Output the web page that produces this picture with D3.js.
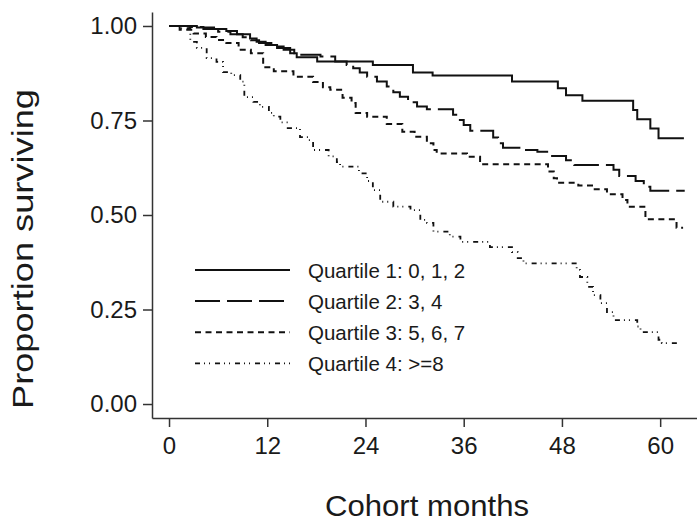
<!DOCTYPE html>
<html>
<head>
<meta charset="utf-8">
<script src="https://cdn.jsdelivr.net/npm/d3@7"></script>
<style>
  body { margin: 0; background: #fff; }
  text { font-family: "Liberation Sans", Arial, sans-serif; fill: #1a1a1a; }
  .axis path, .axis line { stroke: #333; stroke-width: 1.5px; }
  .axis text { font-size: 24px; }
</style>
</head>
<body>
<div id="chart"></div>
<script>
// legend labels
var seriesNames = ["Quartile 1: 0, 1, 2", "Quartile 2: 3, 4", "Quartile 3: 5, 6, 7", "Quartile 4: >=8"];

// [month, proportion surviving] after each step
var q1 = [[0, 1.0], [3.4, 0.996], [5.5, 0.992], [7, 0.987], [8.3, 0.978], [9.9, 0.967], [10.7, 0.958],
  [11.8, 0.950], [13.2, 0.942], [14.8, 0.928], [15.6, 0.917], [18.1, 0.906], [24.9, 0.897], [29.8, 0.877],
  [32.2, 0.869], [41.9, 0.853], [47.5, 0.835], [48.5, 0.817], [50.5, 0.802], [56.7, 0.778], [57.2, 0.753],
  [58.8, 0.729], [59.8, 0.703], [62.9, 0.703]];

var q2 = [[0, 1.0], [2.5, 0.997], [4.2, 0.992], [6, 0.985], [7.5, 0.978], [9, 0.970], [10, 0.962],
  [11, 0.955], [12.5, 0.946], [14, 0.937], [15.3, 0.928], [16, 0.924], [18.5, 0.919], [20.3, 0.906],
  [21.7, 0.897], [22.5, 0.888], [23.3, 0.877], [24.2, 0.866], [25.4, 0.853], [26.6, 0.840], [27.4, 0.825],
  [28.2, 0.813], [29.2, 0.798], [30.3, 0.787], [31.5, 0.780], [34.7, 0.765], [35.3, 0.751], [36.0, 0.738],
  [36.8, 0.723], [39.6, 0.705], [40.2, 0.690], [40.8, 0.678], [42.8, 0.672], [45.0, 0.667], [46.8, 0.656],
  [48.5, 0.645], [49.5, 0.632], [54.3, 0.620], [55.0, 0.603], [57.0, 0.590], [58.0, 0.575], [58.8, 0.564],
  [63.0, 0.564]];

var q3 = [[0, 1.0], [1.3, 0.990], [3, 0.980], [4.5, 0.971], [5.8, 0.963], [7, 0.955], [8.5, 0.937],
  [10, 0.928], [11.5, 0.891], [12.8, 0.880], [15.2, 0.866], [17.6, 0.852], [18.8, 0.838], [19.7, 0.831],
  [21.2, 0.810], [22.3, 0.796], [22.8, 0.770], [24.2, 0.760], [26.6, 0.741], [28.5, 0.720], [30, 0.707],
  [31.5, 0.690], [32.3, 0.672], [32.7, 0.663], [36.4, 0.654], [38.0, 0.634], [46.3, 0.615], [47.0, 0.597],
  [47.4, 0.585], [50, 0.578], [51.8, 0.568], [53.5, 0.555], [55.4, 0.540], [56, 0.522], [58.2, 0.489],
  [62.0, 0.466], [62.8, 0.466]];

var q4 = [[0, 1.0], [1.5, 0.994], [2.6, 0.958], [3.4, 0.942], [4.6, 0.915], [5.8, 0.905], [6.6, 0.878],
  [7.6, 0.870], [8.7, 0.853], [9.2, 0.812], [10.3, 0.799], [11.1, 0.786], [12.2, 0.770], [12.8, 0.760],
  [13.6, 0.745], [14.5, 0.730], [16.0, 0.706], [17.0, 0.698], [17.6, 0.672], [19.5, 0.655], [20.5, 0.640],
  [20.9, 0.628], [23.2, 0.610], [24.2, 0.590], [24.9, 0.566], [25.8, 0.535], [27.4, 0.522], [29.5, 0.513],
  [30.7, 0.487], [31.5, 0.479], [32.3, 0.456], [34.3, 0.443], [35.6, 0.429], [39.2, 0.415], [41.9, 0.402],
  [42.6, 0.386], [43.3, 0.372], [49.8, 0.355], [50.2, 0.336], [51.1, 0.310], [51.8, 0.288], [52.7, 0.267],
  [53.5, 0.243], [54.3, 0.222], [57.2, 0.205], [57.6, 0.190], [59.8, 0.170], [60.2, 0.161], [62.4, 0.161]];

var xTicks = [0, 12, 24, 36, 48, 60];
var yTicks = [0, 0.25, 0.5, 0.75, 1];

var allSeries = [q1, q2, q3, q4];
var dashes = ["none", "25,7", "6,4.5", "5,4,1,4,1,5"];
var widths = [2, 2, 2, 1.8];

var svgWidth = 697, svgHeight = 524;

var svg = d3.select("#chart")
  .append("svg")
  .attr("width", svgWidth)
  .attr("height", svgHeight);

// scales padded a little past 0 and 60 / 0 and 1 so the axis lines overhang like the original
var xScale = d3.scaleLinear().domain([-2.08, 64.5]).range([152, 697]);
var yScale = d3.scaleLinear().domain([-0.037, 1.037]).range([418, 12]);

svg.append("g")
  .attr("class", "axis")
  .attr("transform", "translate(0,418)")
  .call(d3.axisBottom(xScale).tickValues(xTicks).tickSize(9).tickSizeOuter(0).tickPadding(10));

svg.append("g")
  .attr("class", "axis")
  .attr("transform", "translate(152,0)")
  .call(d3.axisLeft(yScale).tickValues(yTicks).tickFormat(d3.format(".2f")).tickSize(9).tickSizeOuter(0).tickPadding(6));

// curves
var line = d3.line()
  .x(d => xScale(d[0]))
  .y(d => yScale(d[1]))
  .curve(d3.curveStepAfter);

svg.append("g")
  .selectAll("path")
  .data(allSeries)
  .enter()
  .append("path")
  .attr("d", line)
  .attr("fill", "none")
  .attr("stroke", "#111")
  .attr("stroke-width", (d, i) => widths[i])
  .attr("stroke-dasharray", (d, i) => dashes[i]);

// legend
var legend = svg.append("g")
  .selectAll("g")
  .data(seriesNames)
  .enter()
  .append("g")
  .attr("transform", (d, i) => `translate(195, ${270 + i * 31.1})`);

legend.append("line")
  .attr("x1", 0)
  .attr("x2", 95)
  .attr("stroke", "#111")
  .attr("stroke-width", (d, i) => widths[i])
  .attr("stroke-dasharray", (d, i) => dashes[i]);

legend.append("text")
  .attr("x", 113)
  .attr("y", 8)
  .style("font-size", "20.5px")
  .text(d => d);

// axis titles
svg.append("text")
  .attr("x", 427)
  .attr("y", 516)
  .attr("text-anchor", "middle")
  .style("font-size", "30px")
  .attr("textLength", 204)
  .attr("lengthAdjust", "spacingAndGlyphs")
  .text("Cohort months");

svg.append("text")
  .attr("transform", "translate(33,249) rotate(-90)")
  .attr("text-anchor", "middle")
  .style("font-size", "29px")
  .attr("textLength", 320)
  .attr("lengthAdjust", "spacingAndGlyphs")
  .text("Proportion surviving");
</script>
</body>
</html>
